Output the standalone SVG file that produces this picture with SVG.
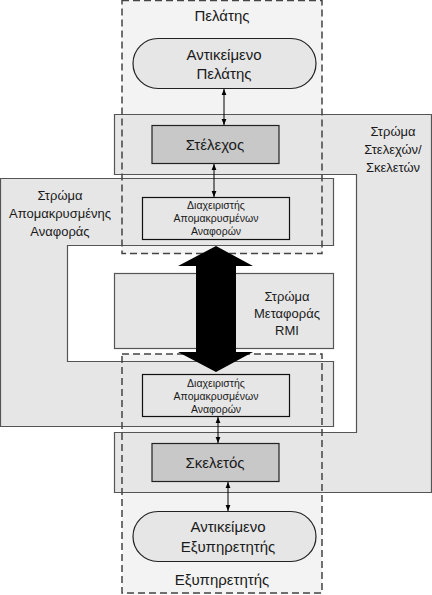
<svg xmlns="http://www.w3.org/2000/svg" width="432" height="595" viewBox="0 0 432 595">
<defs>
<style>
text{font-family:"Liberation Sans",Arial,sans-serif;fill:#1a1a1a;text-anchor:middle}
.big{font-size:15px}
.mid{font-size:13px}
.sm{font-size:10.5px}
.tier{fill:#f3f3f3;stroke:none}
.dash{fill:none;stroke:#444;stroke-width:1.5;stroke-dasharray:7,4}
.layer{fill:#e6e6e6;stroke:#555;stroke-width:1.2}
.mgr{fill:#e6e6e6;stroke:#111;stroke-width:1.2}
.stub{fill:#c8c8c8;stroke:#222;stroke-width:1.2}
.pill{fill:#e6e6e6;stroke:#222;stroke-width:1.2}
.conn{stroke:#000;stroke-width:1;fill:none;marker-start:url(#ah);marker-end:url(#ah)}
</style>
<marker id="ah" viewBox="0 0 10 10" refX="10" refY="5" markerWidth="6" markerHeight="6" orient="auto-start-reverse" markerUnits="userSpaceOnUse">
<path d="M0,1 L10,5 L0,9 z" fill="#000"/>
</marker>
</defs>

<g id="tier-fills">
<rect class="tier" x="122" y="0" width="200" height="254"/>
<rect class="tier" x="122" y="354" width="200" height="240"/>
</g>

<g id="stub-layer">
<path class="layer" d="M114.5,114.5 H431.5 V492.5 H114.5 V432.5 H356.5 V174.5 H114.5 Z"/>
<text class="mid" x="393" y="136">Στρώμα</text>
<text class="mid" x="393" y="154">Στελεχών/</text>
<text class="mid" x="393" y="172">Σκελετών</text>
</g>

<g id="remote-ref-layer">
<path class="layer" d="M0.5,178.5 H333.5 V245.5 H67.5 V361.5 H333.5 V426.5 H0.5 Z"/>
<text class="mid" x="60" y="200">Στρώμα</text>
<text class="mid" x="60" y="218">Απομακρυσμένης</text>
<text class="mid" x="60" y="236">Αναφοράς</text>
</g>

<g id="rmi-layer">
<rect class="layer" x="114.5" y="273.5" width="219" height="75"/>
<text class="mid" x="287" y="301">Στρώμα</text>
<text class="mid" x="287" y="318">Μεταφοράς</text>
<text class="mid" x="287" y="335">RMI</text>
</g>

<g id="client-object">
<rect class="pill" x="133" y="38.5" width="183" height="50" rx="25" ry="25"/>
<text class="big" x="224" y="60">Αντικείμενο</text>
<text class="big" x="224" y="79">Πελάτης</text>
</g>

<g id="stub">
<rect class="stub" x="152" y="125.5" width="127" height="38"/>
<text class="big" x="215" y="150">Στέλεχος</text>
</g>

<g id="rrm-client">
<rect class="mgr" x="142.5" y="197.5" width="147" height="42"/>
<text class="sm" x="216" y="209">Διαχειριστής</text>
<text class="sm" x="216" y="222">Απομακρυσμένων</text>
<text class="sm" x="216" y="235">Αναφορών</text>
</g>

<g id="rrm-server">
<rect class="mgr" x="142.5" y="374.5" width="147" height="42"/>
<text class="sm" x="216" y="387">Διαχειριστής</text>
<text class="sm" x="216" y="400">Απομακρυσμένων</text>
<text class="sm" x="216" y="413">Αναφορών</text>
</g>

<g id="skeleton">
<rect class="stub" x="152" y="443.5" width="127" height="38"/>
<text class="big" x="215" y="468">Σκελετός</text>
</g>

<g id="server-object">
<rect class="pill" x="133" y="511.5" width="183" height="50" rx="25" ry="25"/>
<text class="big" x="228" y="532">Αντικείμενο</text>
<text class="big" x="228" y="552">Εξυπηρετητής</text>
</g>

<g id="tier-outlines">
<rect class="dash" x="122" y="0.5" width="200" height="253"/>
<text class="big" x="222" y="21">Πελάτης</text>
<rect class="dash" x="122" y="354" width="200" height="239"/>
<text class="big" x="222" y="585">Εξυπηρετητής</text>
</g>

<g id="connectors">
<line class="conn" x1="224" y1="89" x2="224" y2="125"/>
<line class="conn" x1="214" y1="164" x2="214" y2="197"/>
<line class="conn" x1="218" y1="417" x2="218" y2="443"/>
<line class="conn" x1="228" y1="482" x2="228" y2="511"/>
<path d="M216,246 L253,266 L236,266 L236,352 L253,352 L216,372 L178,352 L196,352 L196,266 L178,266 Z" fill="#000"/>
</g>
</svg>
